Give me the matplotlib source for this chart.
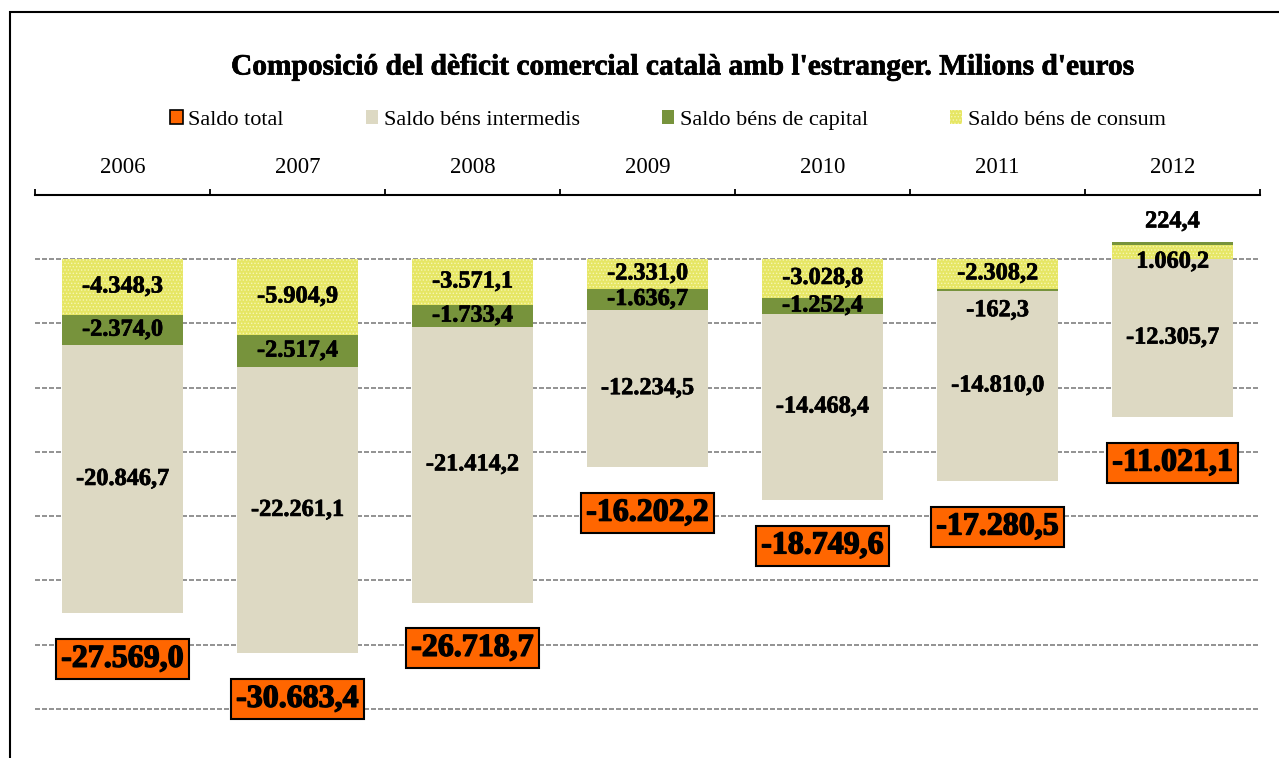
import matplotlib
matplotlib.use('Agg')
import matplotlib.pyplot as plt
import matplotlib.patheffects as pe
from matplotlib.patches import Patch, Rectangle
from matplotlib.ticker import FixedLocator
import numpy as np

# --- data (milions d'euros) ---
years      = ['2006', '2007', '2008', '2009', '2010', '2011', '2012']
consum     = [-4348.3, -5904.9, -3571.1, -2331.0, -3028.8, -2308.2, 1060.2]
capital    = [-2374.0, -2517.4, -1733.4, -1636.7, -1252.4, -162.3, 224.4]
intermedis = [-20846.7, -22261.1, -21414.2, -12234.5, -14468.4, -14810.0, -12305.7]
total      = [-27569.0, -30683.4, -26718.7, -16202.2, -18749.6, -17280.5, -11021.1]

TITLE = "Composició del dèficit comercial català amb l'estranger. Milions d'euros"

C_TOTAL = '#FF6600'
C_INT   = '#DDD9C3'
C_CAP   = '#77933C'
C_CON   = '#E6E664'
C_CON_H = '#F6F6B4'

plt.rcParams.update({'font.family': ['Liberation Serif', 'DejaVu Serif'],
                     'hatch.linewidth': 0.6})


def fmt(v):
    s = f'{abs(v):,.1f}'.replace(',', 'X').replace('.', ',').replace('X', '.')
    return ('-' if v < 0 else '') + s


fig = plt.figure(figsize=(12.79, 7.58), dpi=100)
ax = fig.add_axes([35/1279, 0, 1225/1279, (758-194.7)/758])

xs = np.arange(len(years))
w = 0.686

# stack from zero outwards: consum, capital, intermedis
series = [('consum', consum, C_CON), ('capital', capital, C_CAP), ('intermedis', intermedis, C_INT)]
pos_base = np.zeros(len(years))
neg_base = np.zeros(len(years))
segs = {}
for name, vals, col in series:
    vals = np.array(vals)
    base = np.where(vals >= 0, pos_base, neg_base)
    kw = dict(color=col, linewidth=0)
    if name == 'consum':
        kw.update(hatch='.....', edgecolor=C_CON_H)
    ax.bar(xs, vals, w, bottom=base, zorder=2, **kw)
    segs[name] = (vals, base)
    pos_base = pos_base + np.where(vals >= 0, vals, 0)
    neg_base = neg_base + np.where(vals < 0, vals, 0)

thick = [pe.withStroke(linewidth=0.5, foreground='black')]

# segment labels (a few nudged like in the original)
nudge = {('capital', 5): -21, ('capital', 6): 22, ('consum', 6): -10}
for name, (vals, base) in segs.items():
    for i, v in enumerate(vals):
        ax.annotate(fmt(v), (xs[i], base[i] + v/2),
                    xytext=(0, nudge.get((name, i), 0) * 0.72), textcoords='offset points',
                    ha='center', va='center', fontsize=17.5, fontweight='bold', zorder=4,
                    path_effects=thick)

# saldo total labels, below the negative stack
for i, t in enumerate(total):
    ax.annotate(fmt(t), (xs[i], neg_base[i]), xytext=(0, -33), textcoords='offset points',
                ha='center', va='center', fontsize=23, fontweight='bold', zorder=5,
                path_effects=[pe.withStroke(linewidth=1.0, foreground='black')],
                bbox=dict(boxstyle='square,pad=0.17', fc=C_TOTAL, ec='black', lw=1.5))

ax.set_xlim(-0.5, len(years) - 0.5)
ax.set_ylim(-38811, 5000)
ax.set_yticks(np.arange(-35000, 1, 5000))
ax.yaxis.grid(True, color='#808080', linestyle=(0, (3, 1.2)), linewidth=1.2, zorder=0)
ax.set_axisbelow(True)
ax.tick_params(axis='y', left=False, labelleft=False)

ax.xaxis.tick_top()
ax.set_xticks(xs)
ax.set_xticklabels(years, fontsize=16.5)
ax.xaxis.set_minor_locator(FixedLocator(np.arange(-0.5, len(years), 1.0)))
ax.tick_params(axis='x', which='major', length=0, pad=12)
ax.tick_params(axis='x', which='minor', top=True, bottom=False, length=4.5, width=1.3, direction='out')
for s in ['left', 'right', 'bottom']:
    ax.spines[s].set_visible(False)
ax.spines['top'].set_linewidth(1.5)

fig.text(682/1279, 1 - 67/758, TITLE, ha='center', va='center', fontsize=21.2, fontweight='bold',
         path_effects=[pe.withStroke(linewidth=0.5, foreground='black')])

handles = [Patch(fc=C_TOTAL, ec='black', lw=1.2, label='Saldo total'),
           Patch(fc=C_INT, lw=0, label='Saldo béns intermedis'),
           Patch(fc=C_CAP, lw=0, label='Saldo béns de capital'),
           Patch(fc=C_CON, ec=C_CON_H, hatch='.....', lw=0, label='Saldo béns de consum')]
fig.legend(handles=handles, loc='center', bbox_to_anchor=(668/1279, 1 - 120/758), ncol=4,
           frameon=False, fontsize=16, handlelength=0.55, handleheight=0.55,
           handletextpad=0.25, columnspacing=3.7)

# outer chart frame (only left and top edges fall inside the picture)
fig.patches.append(Rectangle((10/1279, -0.1), 1.2, 1.1 - 12/758, transform=fig.transFigure,
                             fill=False, ec='black', lw=1.5, clip_on=False))

fig.savefig('out.png', dpi=100)
